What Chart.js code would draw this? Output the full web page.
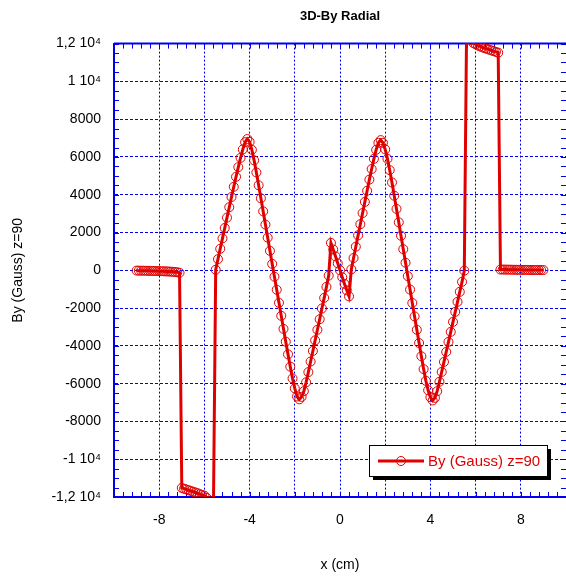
<!DOCTYPE html>
<html>
<head>
<meta charset="utf-8">
<title>3D-By Radial</title>
<script src="https://cdn.jsdelivr.net/npm/chart.js@4.4.1/dist/chart.umd.min.js"></script>
<style>
  html, body { margin: 0; padding: 0; background: #fff; overflow: hidden; }
  #graficoBy { display: block; width: 566px; height: 578px; }
</style>
</head>
<body>
<canvas id="graficoBy" width="566" height="578"></canvas>
<script>
// Posições ao longo do eixo (cm), passo de 0,1 cm
const posicoesCm = [
  -9.0, -8.9, -8.8, -8.7, -8.6, -8.5, -8.4, -8.3, -8.2, -8.1,
  -8.0, -7.9, -7.8, -7.7, -7.6, -7.5, -7.4, -7.3, -7.2, -7.1,
  -7.0, -6.9, -6.8, -6.7, -6.6, -6.5, -6.4, -6.3, -6.2, -6.1,
  -6.0, -5.9, -5.8, -5.7, -5.6, -5.5, -5.4, -5.3, -5.2, -5.1,
  -5.0, -4.9, -4.8, -4.7, -4.6, -4.5, -4.4, -4.3, -4.2, -4.1,
  -4.0, -3.9, -3.8, -3.7, -3.6, -3.5, -3.4, -3.3, -3.2, -3.1,
  -3.0, -2.9, -2.8, -2.7, -2.6, -2.5, -2.4, -2.3, -2.2, -2.1,
  -2.0, -1.9, -1.8, -1.7, -1.6, -1.5, -1.4, -1.3, -1.2, -1.1,
  -1.0, -0.9, -0.8, -0.7, -0.6, -0.5, -0.4, -0.3, -0.2, -0.1,
  0.0, 0.1, 0.2, 0.3, 0.4, 0.5, 0.6, 0.7, 0.8, 0.9,
  1.0, 1.1, 1.2, 1.3, 1.4, 1.5, 1.6, 1.7, 1.8, 1.9,
  2.0, 2.1, 2.2, 2.3, 2.4, 2.5, 2.6, 2.7, 2.8, 2.9,
  3.0, 3.1, 3.2, 3.3, 3.4, 3.5, 3.6, 3.7, 3.8, 3.9,
  4.0, 4.1, 4.2, 4.3, 4.4, 4.5, 4.6, 4.7, 4.8, 4.9,
  5.0, 5.1, 5.2, 5.3, 5.4, 5.5, 5.6, 5.7, 5.8, 5.9,
  6.0, 6.1, 6.2, 6.3, 6.4, 6.5, 6.6, 6.7, 6.8, 6.9,
  7.0, 7.1, 7.2, 7.3, 7.4, 7.5, 7.6, 7.7, 7.8, 7.9,
  8.0, 8.1, 8.2, 8.3, 8.4, 8.5, 8.6, 8.7, 8.8, 8.9,
  9.0,
];

// Campo By (Gauss) medido em z=90
const campoBy = [
  -15, -18, -20, -22, -25, -27, -30, -33, -36, -40,
  -44, -48, -53, -58, -64, -71, -80, -90, -105, -130,
  -11520, -11560, -11600, -11640, -11680, -11720, -11760, -11800, -11850, -11890,
  -11930, -12050, -12250, -12450, -12600, 30, 590, 1140, 1690, 2240,
  2790, 3340, 3880, 4420, 4950, 5460, 5950, 6400, 6780, 6950,
  6800, 6380, 5820, 5180, 4500, 3810, 3120, 2420, 1730, 1030,
  340, -340, -1030, -1720, -2410, -3100, -3780, -4450, -5100, -5720,
  -6250, -6680, -6830, -6700, -6400, -5930, -5390, -4830, -4270, -3710,
  -3150, -2590, -2020, -1460, -880, -280, 1450, 1100, 740, 370,
  0, -370, -720, -1060, -1380, 50, 650, 1250, 1850, 2440,
  3030, 3620, 4210, 4800, 5360, 5900, 6380, 6750, 6890, 6750,
  6400, 5900, 5300, 4650, 3950, 3250, 2540, 1830, 1120, 400,
  -310, -1020, -1730, -2440, -3150, -3850, -4550, -5230, -5850, -6350,
  -6720, -6890, -6750, -6400, -5900, -5380, -4850, -4320, -3790, -3260,
  -2730, -2200, -1670, -1140, -610, -20, 12600, 12400, 12200, 12030,
  11960, 11900, 11850, 11800, 11760, 11720, 11680, 11640, 11600, 11560,
  11520, 40, 40, 38, 36, 34, 32, 30, 28, 26,
  24, 22, 21, 20, 19, 18, 17, 16, 15, 14,
  13,
];

const rotuloSerie = "By (Gauss) z=90";
const tituloGrafico = "3D-By Radial";
const tituloX = "x (cm)";
const tituloY = "By (Gauss) z=90";

const AZUL = "#0000ee";
const VERMELHO = "#e00000";

Chart.defaults.font.family = "'Liberation Sans', Arial, sans-serif";
Chart.defaults.color = "#000";

// Rótulos do eixo Y no formato "1,2 10⁴"
function rotuloY(v) {
  if (Math.abs(v) >= 10000) {
    return String(v / 10000).replace(".", ",") + " 10\u2074";
  }
  return String(v);
}

// Traços menores nos quatro lados e linha superior da moldura
const tracosMenores = {
  id: "tracosMenores",
  beforeDatasetsDraw(chart) {
    const { ctx, chartArea: a, scales } = chart;
    ctx.save();
    ctx.strokeStyle = AZUL;
    ctx.lineWidth = 1;
    ctx.beginPath();
    for (let i = -25; i <= 25; i++) {
      const px = Math.round(scales.x.getPixelForValue(i * 0.4)) + 0.5;
      ctx.moveTo(px, a.top);
      ctx.lineTo(px, a.top + 5);
      ctx.moveTo(px, a.bottom);
      ctx.lineTo(px, a.bottom - 5);
    }
    for (let i = -24; i <= 24; i++) {
      const py = Math.round(scales.y.getPixelForValue(i * 500)) + 0.5;
      ctx.moveTo(a.left, py);
      ctx.lineTo(a.left + 5, py);
      ctx.moveTo(a.right, py);
      ctx.lineTo(a.right - 5, py);
    }
    ctx.stroke();
    ctx.lineWidth = 2;
    ctx.beginPath();
    ctx.moveTo(a.left, a.top);
    ctx.lineTo(a.right, a.top);
    ctx.stroke();
    ctx.restore();
  },
};

// Legenda em caixa com sombra, dentro da área do gráfico
const legendaCaixa = {
  id: "legendaCaixa",
  afterDraw(chart) {
    const { ctx, chartArea: a } = chart;
    const ds = chart.data.datasets[0];
    const x = a.right - 197;
    const y = a.bottom - 52;
    const w = 178;
    const h = 31;
    ctx.save();
    ctx.fillStyle = "#000";
    ctx.fillRect(x + 4, y + 4, w, h);
    ctx.fillStyle = "#fff";
    ctx.fillRect(x, y, w, h);
    ctx.strokeStyle = "#000";
    ctx.lineWidth = 1;
    ctx.strokeRect(x + 0.5, y + 0.5, w, h);

    const ly = y + 16;
    ctx.strokeStyle = ds.borderColor;
    ctx.lineWidth = 3;
    ctx.beginPath();
    ctx.moveTo(x + 9, ly);
    ctx.lineTo(x + 55, ly);
    ctx.stroke();
    ctx.lineWidth = 1;
    ctx.beginPath();
    ctx.arc(x + 32, ly, 4.5, 0, 2 * Math.PI);
    ctx.stroke();

    ctx.fillStyle = ds.borderColor;
    ctx.font = "15px 'Liberation Sans', Arial, sans-serif";
    ctx.textBaseline = "middle";
    ctx.fillText(ds.label, x + 59, ly + 1);
    ctx.restore();
  },
};

const ctx = document.getElementById("graficoBy").getContext("2d");
const graficoBy = new Chart(ctx, {
  type: "line",
  data: {
    datasets: [
      {
        label: rotuloSerie,
        data: posicoesCm.map((x, i) => ({ x: x, y: campoBy[i] })),
        borderColor: VERMELHO,
        borderWidth: 3,
        pointRadius: 4.5,
        pointBorderWidth: 1,
        pointBorderColor: VERMELHO,
        pointBackgroundColor: "rgba(0,0,0,0)",
        tension: 0,
        fill: false,
      },
    ],
  },
  options: {
    responsive: false,
    animation: false,
    layout: { padding: 0, autoPadding: false },
    plugins: {
      legend: { display: false },
      tooltip: { enabled: false },
      title: {
        display: true,
        text: tituloGrafico,
        fullSize: false,
        color: "#000",
        font: { size: 13, weight: "bold" },
        padding: { top: 9, bottom: 19 },
      },
    },
    scales: {
      x: {
        type: "linear",
        min: -10,
        max: 10,
        afterFit: (s) => {
          s.height = 81;
          s.paddingLeft = 0;
          s.paddingRight = 0;
        },
        ticks: {
          stepSize: 2,
          autoSkip: false,
          maxRotation: 0,
          padding: 15,
          font: { size: 14 },
          callback: (v) => (v % 4 === 0 ? String(v) : ""),
        },
        grid: { color: AZUL, lineWidth: 1, drawTicks: false },
        border: { display: true, color: AZUL, width: 2, dash: [2, 2] },
        title: { display: true, text: tituloX, font: { size: 14 }, padding: { top: 0, bottom: 4 } },
      },
      y: {
        type: "linear",
        min: -12000,
        max: 12000,
        afterFit: (s) => {
          s.width = 114;
          s.paddingTop = 0;
          s.paddingBottom = 0;
        },
        ticks: {
          stepSize: 2000,
          autoSkip: false,
          padding: 13,
          font: { size: 14 },
          callback: rotuloY,
        },
        grid: { color: AZUL, lineWidth: 1, drawTicks: false },
        border: { display: true, color: AZUL, width: 2, dash: [3, 2] },
        title: { display: true, text: tituloY, font: { size: 14 }, padding: { top: 10, bottom: 0 } },
      },
    },
  },
  plugins: [tracosMenores, legendaCaixa],
});
</script>
</body>
</html>
